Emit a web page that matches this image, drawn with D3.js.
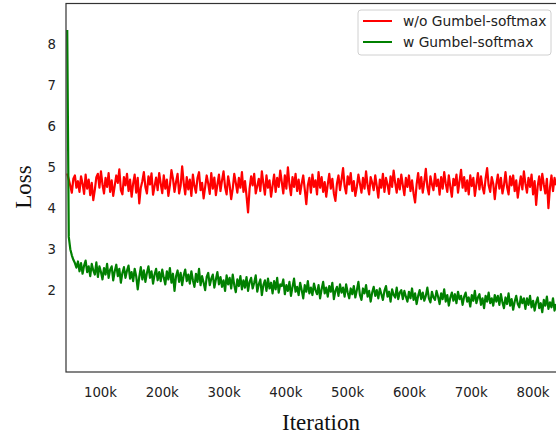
<!DOCTYPE html>
<html>
<head>
<meta charset="utf-8">
<script src="https://cdn.jsdelivr.net/npm/d3@7"></script>
<style>
  body { margin: 0; background: #fff; }
  .tick text { font-family: "DejaVu Sans", sans-serif; font-size: 13.3px; fill: #222; }
</style>
</head>
<body>
<svg id="chart" width="556" height="434"></svg>
<script>
// loss logged every 2.48k iterations starting at 47k
const iterStart = 47000;
const iterStep = 2480;

const redLoss = [
  4.85, 4.70, 4.55, 4.38, 4.72, 4.80, 4.50, 4.66, 4.40, 4.78, 4.60, 4.35, 4.82, 4.48, 4.70, 4.32, 4.62, 4.20, 4.45, 4.76,
  4.84, 4.50, 4.90, 4.58, 4.36, 4.74, 4.52, 4.86, 4.40, 4.68, 4.30, 4.55, 4.80, 4.62, 4.95, 4.44, 4.34, 4.76, 4.56, 4.84,
  4.42, 4.70, 4.28, 4.60, 4.82, 4.38, 4.74, 4.12, 4.50, 4.66, 4.88, 4.52, 4.36, 4.78, 4.58, 4.85, 4.33, 4.54, 4.75, 4.44,
  4.86, 4.60, 4.37, 4.80, 4.48, 4.70, 4.30, 4.56, 4.93, 4.72, 4.40, 4.64, 4.84, 4.36, 4.55, 5.02, 4.62, 4.34, 4.76, 4.46,
  4.70, 4.30, 4.82, 4.54, 4.38, 4.74, 4.88, 4.44, 4.62, 4.24, 4.52, 4.80, 4.60, 4.35, 4.86, 4.48, 4.75, 4.32, 4.58, 4.82,
  4.42, 4.68, 4.90, 4.52, 4.34, 4.78, 4.56, 4.22, 4.48, 4.84, 4.62, 4.38, 4.74, 4.50, 4.88, 4.40, 4.66, 4.30, 3.90, 4.48,
  4.78, 4.56, 4.84, 4.36, 4.54, 4.72, 4.42, 4.90, 4.60, 4.33, 4.80, 4.50, 4.68, 4.28, 4.55, 4.82, 4.40, 4.74, 4.52, 4.92,
  4.64, 4.36, 4.80, 4.48, 5.00, 4.58, 4.32, 4.76, 4.52, 4.84, 4.42, 4.70, 4.35, 4.60, 4.80, 4.46, 4.10, 4.56, 4.74, 4.38,
  4.82, 4.52, 4.68, 4.34, 4.88, 4.50, 4.76, 4.40, 4.64, 4.28, 4.58, 4.84, 4.48, 4.72, 4.36, 4.18, 4.60, 4.80, 4.44, 4.70,
  4.98, 4.54, 4.36, 4.78, 4.58, 4.86, 4.42, 4.66, 4.30, 4.52, 4.82, 4.60, 4.38, 4.74, 4.48, 4.90, 4.56, 4.34, 4.76, 4.62,
  4.44, 4.80, 4.54, 4.26, 4.70, 4.50, 4.84, 4.40, 4.74, 4.58, 4.35, 4.78, 4.52, 4.92, 4.62, 4.38, 4.72, 4.46, 4.82, 4.56,
  4.32, 4.74, 4.52, 4.80, 4.42, 4.68, 4.36, 4.14, 4.58, 4.86, 4.48, 4.76, 4.38, 4.64, 4.96, 4.52, 4.34, 4.78, 4.58, 4.44,
  4.84, 4.54, 4.70, 4.33, 4.76, 4.48, 4.88, 4.60, 4.40, 4.80, 4.52, 4.28, 4.72, 4.56, 4.82, 4.38, 4.66, 4.94, 4.50, 4.76,
  4.42, 4.68, 4.34, 4.80, 4.54, 4.74, 4.30, 4.58, 4.86, 4.46, 4.78, 4.52, 4.36, 4.72, 4.98, 4.56, 4.40, 4.76, 4.60, 4.22,
  4.58, 4.82, 4.48, 4.74, 4.36, 4.56, 4.88, 4.52, 4.34, 4.78, 4.56, 4.80, 4.42, 4.68, 4.26, 4.54, 4.78, 4.46, 4.90, 4.60,
  4.38, 4.74, 4.52, 4.82, 4.34, 4.66, 4.08, 4.54, 4.78, 4.44, 4.84, 4.58, 4.36, 4.72, 4.00, 4.50, 4.80, 4.42, 4.74, 4.56
];

const greenLoss = [
  8.35, 3.30, 3.00, 2.85, 2.74, 2.66, 2.55, 2.70, 2.46, 2.66, 2.40, 2.60, 2.72, 2.44, 2.58, 2.34, 2.64, 2.48, 2.38, 2.68,
  2.32, 2.58, 2.44, 2.26, 2.54, 2.38, 2.64, 2.30, 2.50, 2.58, 2.24, 2.46, 2.62, 2.34, 2.52, 2.18, 2.42, 2.56, 2.30, 2.48,
  2.60, 2.28, 2.44, 2.22, 2.52, 2.34, 2.02, 2.32, 2.56, 2.26, 2.48, 2.20, 2.42, 2.58, 2.30, 2.46, 2.16, 2.38, 2.52, 2.24,
  2.44, 2.22, 2.50, 2.30, 2.14, 2.46, 2.26, 2.54, 2.18, 2.40, 1.98, 2.34, 2.48, 2.20, 2.42, 2.12, 2.36, 2.50, 2.22, 2.38,
  2.16, 2.46, 2.24, 2.08, 2.40, 2.20, 2.52, 2.12, 2.34, 2.18, 2.00, 2.32, 2.42, 2.12, 2.28, 2.38, 2.06, 2.26, 2.44, 2.14,
  2.32, 2.08, 2.24, 1.98, 2.36, 2.14, 2.30, 2.04, 2.38, 2.12, 1.95, 2.26, 2.10, 2.34, 2.02, 2.24, 2.06, 2.32, 1.98, 2.20,
  2.30, 2.04, 2.18, 2.36, 1.96, 2.14, 2.26, 1.88, 2.12, 2.24, 1.98, 2.28, 2.04, 2.18, 1.92, 2.22, 2.02, 2.30, 1.94, 2.14,
  2.10, 2.26, 1.90, 2.12, 1.98, 2.20, 1.86, 2.08, 2.28, 1.96, 2.08, 1.88, 2.18, 2.00, 1.80, 2.12, 1.96, 2.22, 1.92, 2.06,
  1.88, 2.16, 2.00, 1.90, 2.12, 1.80, 2.02, 2.20, 1.92, 2.06, 1.84, 2.10, 1.96, 2.18, 1.78, 1.98, 2.08, 1.86, 2.14, 1.94,
  2.06, 1.84, 2.14, 1.94, 1.80, 2.04, 1.90, 2.10, 1.82, 2.00, 2.20, 1.88, 1.76, 2.04, 1.92, 2.12, 1.84, 1.98, 1.72, 1.94,
  2.08, 1.86, 2.00, 1.80, 2.04, 1.90, 1.76, 1.98, 2.10, 1.84, 1.96, 1.72, 2.02, 1.88, 1.82, 2.06, 1.78, 1.94, 2.00, 1.78,
  1.98, 1.84, 1.72, 1.96, 1.80, 2.04, 1.76, 1.92, 1.66, 1.86, 2.00, 1.78, 1.94, 1.74, 1.86, 2.06, 1.80, 1.70, 1.96, 1.82,
  1.76, 1.98, 1.84, 1.66, 1.92, 1.78, 2.02, 1.72, 1.88, 1.62, 1.82, 1.94, 1.74, 1.90, 1.68, 1.96, 1.78, 1.86, 1.64, 1.84,
  1.94, 1.72, 1.82, 1.60, 1.88, 1.74, 1.98, 1.68, 1.82, 1.90, 1.64, 1.80, 1.56, 1.86, 1.72, 1.94, 1.68, 1.80, 1.62, 1.88,
  1.72, 1.86, 1.64, 1.90, 1.70, 1.56, 1.82, 1.66, 1.92, 1.62, 1.78, 1.52, 1.72, 1.86, 1.66, 1.58, 1.84, 1.68, 1.80, 1.54,
  1.80, 1.64, 1.86, 1.58, 1.74, 1.50, 1.70, 1.82, 1.56, 1.68, 1.46, 1.76, 1.62, 1.84, 1.54, 1.70, 1.58, 1.80, 1.50, 1.66
];

const yTicks = [2, 3, 4, 5, 6, 7, 8];
const xTicks = [100000, 200000, 300000, 400000, 500000, 600000, 700000, 800000];

const series = [
  { name: 'w/o Gumbel-softmax', color: '#ff0000', values: redLoss },
  { name: 'w Gumbel-softmax', color: '#008000', values: greenLoss }
];

const svg = d3.select('#chart');
const plotLeft = 66, plotRight = 556, plotTop = 3.5, plotBottom = 372;

const x = d3.scaleLinear().domain([45000, 838000]).range([plotLeft, plotRight]);
const y = d3.scaleLinear().domain([0, 9]).range([plotBottom, plotTop]);

svg.append('defs').append('clipPath').attr('id', 'clip')
  .append('rect').attr('x', plotLeft).attr('y', plotTop)
  .attr('width', plotRight - plotLeft).attr('height', plotBottom - plotTop);

let line = d3.line()
  .x((d, i) => x(iterStart + i * iterStep))
  .y(d => y(d));

svg.append('g').attr('clip-path', 'url(#clip)')
  .selectAll('path')
  .data(series)
  .join('path')
  .attr('d', d => line(d.values))
  .attr('fill', 'none')
  .attr('stroke', d => d.color)
  .attr('stroke-width', 2.2)
  .attr('stroke-linejoin', 'round');

// frame
svg.append('rect')
  .attr('x', plotLeft).attr('y', plotTop)
  .attr('width', plotRight - plotLeft + 20).attr('height', plotBottom - plotTop)
  .attr('fill', 'none').attr('stroke', '#333').attr('stroke-width', 1.2);

svg.append('g')
  .attr('transform', `translate(${plotLeft - 4},0)`)
  .call(d3.axisLeft(y).tickValues(yTicks).tickSize(0).tickPadding(6).tickFormat(d3.format('d')))
  .call(g => g.select('.domain').remove());

svg.append('g')
  .attr('transform', `translate(0,${plotBottom + 8})`)
  .call(d3.axisBottom(x).tickValues(xTicks).tickSize(0).tickPadding(8).tickFormat(d => (d / 1000) + 'k'))
  .call(g => g.select('.domain').remove());

svg.append('text')
  .attr('transform', 'translate(31,187) rotate(-90)')
  .attr('text-anchor', 'middle')
  .style('font-family', '"Liberation Serif", serif')
  .style('font-size', '23px')
  .attr('fill', '#111')
  .text('Loss');

svg.append('text')
  .attr('x', 321).attr('y', 430)
  .attr('text-anchor', 'middle')
  .style('font-family', '"Liberation Serif", serif')
  .style('font-size', '23px')
  .attr('fill', '#111')
  .text('Iteration');

// legend
const legend = svg.append('g').attr('transform', 'translate(358,10)');
legend.append('rect')
  .attr('width', 193).attr('height', 45).attr('rx', 3)
  .attr('fill', '#fff').attr('stroke', '#d0d0d0');

const items = legend.selectAll('g.item')
  .data(series)
  .join('g')
  .attr('class', 'item')
  .attr('transform', (d, i) => `translate(0,${11 + i * 21})`);

items.append('line')
  .attr('x1', 5).attr('x2', 34)
  .attr('stroke', d => d.color).attr('stroke-width', 2);

items.append('text')
  .attr('x', 45).attr('dy', '0.35em')
  .style('font-family', '"DejaVu Sans", sans-serif')
  .style('font-size', '13.8px')
  .attr('fill', '#222')
  .text(d => d.name);
</script>
</body>
</html>
